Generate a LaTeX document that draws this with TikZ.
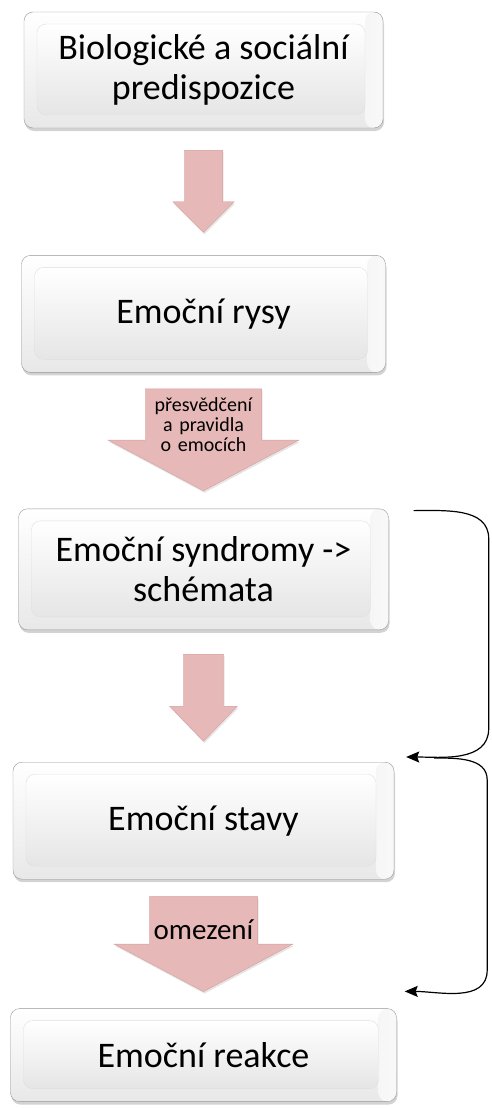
\documentclass[tikz,border=0pt]{standalone}
\usepackage{fontspec}
\setmainfont{Carlito}
\usetikzlibrary{arrows.meta,positioning,shapes.arrows,shadows,calc}

\definecolor{flowpink}{RGB}{230,185,184}
\definecolor{flowedge}{RGB}{212,158,156}
\definecolor{stageedge}{RGB}{150,150,150}

\tikzset{
    stage/.style={draw=stageedge,rounded corners=9pt,top color=white,bottom color=gray!18,
        align=center,inner sep=0pt,font=\fontsize{36}{40}\selectfont,
        drop shadow={opacity=.35,shadow xshift=1pt,shadow yshift=-3pt},
        path picture={
            \shade[left color=gray!45,right color=gray!5]
                ([xshift=-18pt]path picture bounding box.north east) rectangle (path picture bounding box.south east);
            \shade[top color=white,bottom color=gray!20,draw=gray!25]
                ([shift={(13pt,-12pt)}]path picture bounding box.north west)
                rectangle ([shift={(-18pt,13pt)}]path picture bounding box.south east);
        }},
    flow/.style={single arrow,shape border rotate=270,draw=flowedge,fill=flowpink,
        inner sep=0pt,align=center,
        drop shadow={opacity=.2,shadow xshift=1pt,shadow yshift=-2pt}},
    loopback/.style={-{Stealth[length=13pt,width=11pt,inset=2pt]},line width=1.2pt}
}

\begin{document}
\begin{tikzpicture}[x=1pt,y=-1pt]

                \useasboundingbox (0,0) rectangle (492,1108);

                \node[stage,minimum width=359pt,minimum height=116pt] (bio) at (203.5,70) {Biologické a sociální\\predispozice};

                \node[stage,minimum width=364pt,minimum height=117pt] (rysy) [below=127pt of bio] {Emoční rysy};

                \node[stage,minimum width=370pt,minimum height=121pt] (syn) [below=136pt of rysy] {Emoční syndromy ->\\schémata};

                \node[stage,minimum width=381pt,minimum height=117pt] (stav) [below=132pt of syn] {Emoční stavy};

                \node[stage,minimum width=386pt,minimum height=93pt] (reak) [below=129pt of stav] {Emoční reakce};

                

                \node[flow,text width=38pt,minimum height=82pt,single arrow head extend=11.5pt,
                      single arrow tip angle=90] (a1) [below=22pt of bio] {};

                \node[flow,text width=116pt,minimum height=102pt,single arrow head extend=37pt,
                      single arrow tip angle=124,font=\fontsize{20}{20}\selectfont] (a2) [below=16pt of rysy]
                      {přesvědčení\\a pravidla\\o emocích};

                \node[flow,text width=40pt,minimum height=87pt,single arrow head extend=13.5pt,
                      single arrow tip angle=88] (a3) [below=24pt of syn] {};

                \node[flow,text width=108pt,minimum height=95pt,single arrow head extend=35pt,
                      single arrow tip angle=124,font=\fontsize{29}{30}\selectfont] (a4) [below=17pt of stav] {omezení};

                

                \coordinate (synend) at ($(syn.north east)+(25,2)$);

                \coordinate (stavend) at ($(stav.north east)+(12,-5)$);

                \coordinate (reakend) at ($(reak.north east)+(8,-17)$);

                

                \draw[loopback] (synend) to[out=0,in=90] ++(75,28) -- ++(0,190)
                                to[out=-90,in=0] (stavend);

                \draw[loopback] ($(stavend)+(28,1)$) to[out=0,in=90] ++(53,22) -- ++(0,190)
                                to[out=-90,in=0] (reakend);

\end{tikzpicture}
\end{document}
